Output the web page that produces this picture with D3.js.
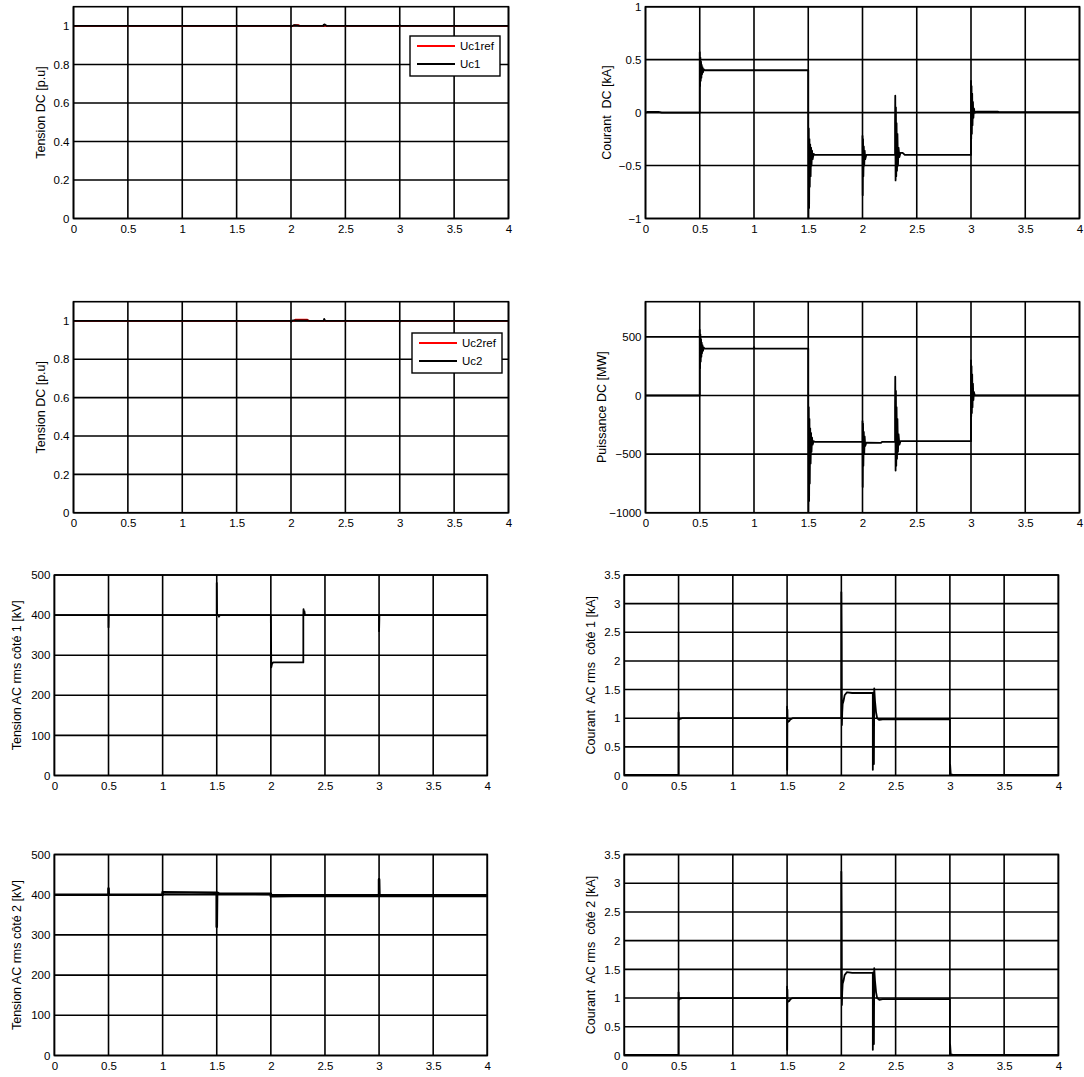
<!DOCTYPE html>
<html><head><meta charset="utf-8">
<script src="https://cdn.jsdelivr.net/npm/d3@7/dist/d3.min.js"></script>
<style>
body{margin:0;background:#fff;}
svg text{font-family:"Liberation Sans",Arial,Helvetica,sans-serif;fill:#000;}
</style></head>
<body><svg id="chart" width="1084" height="1077"></svg>
<script>
// ---------- data (time in s) ----------
const xTicks = [0, 0.5, 1, 1.5, 2, 2.5, 3, 3.5, 4];
const xTickLabels = ["0", "0.5", "1", "1.5", "2", "2.5", "3", "3.5", "4"];

const yTicksUdc = [0, 0.2, 0.4, 0.6, 0.8, 1];
const yTicksIdc = [-1, -0.5, 0, 0.5, 1];
const yTicksPdc = [-1000, -500, 0, 500];
const yTicksUac = [0, 100, 200, 300, 400, 500];
const yTicksIac = [0, 0.5, 1, 1.5, 2, 2.5, 3, 3.5];

const uc1ref = [[0,1],[2.02,1],[2.03,1.004],[2.07,1.004],[2.08,1],[4,1]];
const uc1 = [[0,1],[1.5,1],[1.5,1.003],[1.505,1],[2.0,1],[2.0,0.997],[2.03,1.004],[2.06,1.003],[2.08,1],[2.3,1],[2.3,1.006],[2.31,1.008],[2.33,1],[3,1],[3.0,1.003],[3.01,1],[4,1]];

const uc2ref = [[0,1],[2.03,1],[2.04,1.006],[2.15,1.006],[2.16,1],[4,1]];
const uc2 = [[0,1],[2.0,1],[2.0,0.995],[2.02,1.003],[2.15,1.002],[2.17,1],[2.3,1],[2.305,1.01],[2.315,1],[3,1],[3.005,0.998],[3.01,1],[4,1]];

const idc = [[0,0],[0.02,0.006],[0.12,0.006],[0.15,0],[0.5,0],
  [0.5,0.57],[0.503,0.25],[0.506,0.52],[0.509,0.3],[0.512,0.48],[0.515,0.33],[0.518,0.45],[0.521,0.36],[0.525,0.43],[0.53,0.38],[0.535,0.41],[0.545,0.4],
  [1.5,0.4],[1.5,-0.1],[1.502,-1.0],[1.505,-0.15],[1.508,-0.9],[1.511,-0.25],[1.514,-0.7],[1.518,-0.3],[1.522,-0.6],[1.526,-0.33],[1.53,-0.5],[1.535,-0.36],[1.54,-0.44],[1.55,-0.39],[1.56,-0.4],
  [2.0,-0.4],[2.0,-0.22],[2.002,-0.78],[2.005,-0.25],[2.008,-0.6],[2.012,-0.32],[2.016,-0.5],[2.02,-0.36],[2.025,-0.44],[2.035,-0.4],
  [2.3,-0.4],[2.3,-0.1],[2.302,0.16],[2.305,-0.64],[2.308,0.05],[2.311,-0.6],[2.314,-0.1],[2.318,-0.55],[2.322,-0.2],[2.327,-0.5],[2.332,-0.33],[2.34,-0.42],[2.35,-0.38],[2.37,-0.38],[2.39,-0.4],
  [3.0,-0.4],[3.0,0.3],[3.002,-0.25],[3.005,0.25],[3.008,-0.2],[3.011,0.18],[3.014,-0.12],[3.018,0.1],[3.022,-0.05],[3.027,0.04],[3.035,0.0],[3.05,0.008],[3.25,0.008],[3.26,0.004],[4,0.004]];

const pdc = [[0,0],[0.5,0],
  [0.5,560],[0.503,230],[0.506,520],[0.509,290],[0.512,480],[0.515,330],[0.518,450],[0.521,360],[0.525,430],[0.53,380],[0.535,410],[0.545,400],
  [1.0,400],[1.0,412],[1.005,400],[1.5,400],
  [1.5,-80],[1.502,-990],[1.505,-100],[1.508,-900],[1.511,-200],[1.514,-750],[1.518,-280],[1.522,-580],[1.526,-320],[1.53,-480],[1.535,-360],[1.54,-420],[1.55,-390],[1.56,-395],
  [2.0,-395],[2.0,-220],[2.002,-780],[2.005,-240],[2.008,-600],[2.012,-310],[2.016,-500],[2.02,-350],[2.025,-430],[2.035,-402],[2.17,-405],[2.18,-395],
  [2.3,-395],[2.3,-100],[2.302,160],[2.305,-640],[2.308,40],[2.311,-600],[2.314,-100],[2.318,-540],[2.322,-200],[2.327,-480],[2.332,-330],[2.34,-420],[2.35,-390],
  [3.0,-390],[3.0,300],[3.002,-180],[3.005,250],[3.008,-150],[3.011,180],[3.014,-100],[3.018,100],[3.022,-40],[3.027,30],[3.035,0],[4,0]];

const uac1 = [[0,400],[0.5,400],[0.5,370],[0.502,400],[1.5,400],[1.5,480],[1.503,400],[1.52,400],[1.52,396],[1.53,400],
  [2.0,400],[2.0,385],[2.004,270],[2.01,278],[2.02,282],[2.3,282],[2.3,400],[2.302,415],[2.306,400],[2.31,410],[2.315,400],
  [3.0,400],[3.0,360],[3.003,400],[4,400]];

const iac1 = [[0,0.01],[0.5,0.01],[0.5,1.1],[0.503,0.97],[0.51,1.0],[0.52,0.99],[0.53,1.0],
  [1.5,1.0],[1.5,1.2],[1.501,0.1],[1.503,1.15],[1.505,0.93],[1.52,0.95],[1.53,0.98],[1.55,1.0],
  [2.0,1.0],[2.0,3.2],[2.003,2.3],[2.005,0.88],[2.008,1.1],[2.012,1.25],[2.02,1.3],[2.03,1.4],[2.05,1.45],[2.1,1.44],
  [2.29,1.44],[2.29,0.1],[2.295,1.45],[2.3,0.2],[2.303,1.52],[2.31,1.3],[2.32,1.1],[2.33,1.0],[2.35,0.97],[2.38,0.98],
  [3.0,0.98],[3.0,0.0],[3.002,0.2],[3.008,0.02],[3.03,0.01],[4,0.01]];

const uac2 = [[0,400],[0.5,400],[0.5,415],[0.502,400],[1.0,400],[1.0,406],[1.5,405],[1.5,320],[1.503,405],[1.52,403],
  [2.0,402],[2.0,396],[2.2,397],[3.0,397],[3.0,438],[3.003,397],[4,397]];

const iac2 = [[0,0.01],[0.5,0.01],[0.5,1.1],[0.503,0.97],[0.51,1.0],[0.52,0.99],[0.53,1.0],
  [1.5,1.0],[1.5,1.2],[1.501,0.1],[1.503,1.15],[1.505,0.93],[1.52,0.95],[1.53,0.98],[1.55,1.0],
  [2.0,1.0],[2.0,3.2],[2.003,2.3],[2.005,0.88],[2.008,1.1],[2.012,1.25],[2.02,1.3],[2.03,1.4],[2.05,1.45],[2.1,1.44],
  [2.29,1.44],[2.29,0.1],[2.295,1.45],[2.3,0.2],[2.303,1.52],[2.31,1.3],[2.32,1.1],[2.33,1.0],[2.35,0.97],[2.38,0.98],
  [3.0,0.98],[3.0,0.0],[3.002,0.2],[3.008,0.02],[3.03,0.01],[4,0.01]];

const yLabels = ["Tension DC [p.u]", "Courant  DC [kA]", "Tension DC [p.u]", "Puissance DC [MW]",
  "Tension AC rms côté 1 [kV]", "Courant  AC rms  côté 1 [kA]", "Tension AC rms côté 2 [kV]", "Courant  AC rms  côté 2 [kA]"];

// ---------- layout ----------
const panels = [
  {x0:73.5, x1:508.5, y0:6.7, y1:218.5, dom:[0,1.1], ticks:yTicksUdc, label:yLabels[0], lx:40.5,
   series:[{d:uc1ref,c:"#ff0000"},{d:uc1,c:"#000"}], legend:["Uc1ref","Uc1"], leg:[410,36]},
  {x0:645.5, x1:1079.5, y0:6.7, y1:218.5, dom:[-1,1], ticks:yTicksIdc, label:yLabels[1], lx:607,
   series:[{d:idc,c:"#000"}]},
  {x0:73.5, x1:508.5, y0:301.7, y1:512.7, dom:[0,1.1], ticks:yTicksUdc, label:yLabels[2], lx:40.5,
   series:[{d:uc2ref,c:"#ff0000"},{d:uc2,c:"#000"}], legend:["Uc2ref","Uc2"], leg:[412,333]},
  {x0:645.5, x1:1079.5, y0:301.7, y1:512.7, dom:[-1000,800], ticks:yTicksPdc, label:yLabels[3], lx:602,
   series:[{d:pdc,c:"#000"}]},
  {x0:54.4, x1:487.3, y0:575, y1:775.5, dom:[0,500], ticks:yTicksUac, label:yLabels[4], lx:17,
   series:[{d:uac1,c:"#000"}]},
  {x0:624.3, x1:1058.4, y0:575, y1:775.5, dom:[0,3.5], ticks:yTicksIac, label:yLabels[5], lx:591,
   series:[{d:iac1,c:"#000"}]},
  {x0:54.4, x1:487.3, y0:854.5, y1:1055.5, dom:[0,500], ticks:yTicksUac, label:yLabels[6], lx:17,
   series:[{d:uac2,c:"#000"}], sw:2.6},
  {x0:624.3, x1:1058.4, y0:854.5, y1:1055.5, dom:[0,3.5], ticks:yTicksIac, label:yLabels[7], lx:591,
   series:[{d:iac2,c:"#000"}]}
];

const svg = d3.select("#chart");
svg.append("rect").attr("width",1084).attr("height",1077).attr("fill","#fff");

panels.forEach((p,i) => {
  const x = d3.scaleLinear().domain([0,4]).range([p.x0,p.x1]);
  const y = d3.scaleLinear().domain(p.dom).range([p.y1,p.y0]);
  const g = svg.append("g");
  const clipId = "clip"+i;
  svg.append("clipPath").attr("id",clipId).append("rect")
    .attr("x",p.x0).attr("y",p.y0).attr("width",p.x1-p.x0).attr("height",p.y1-p.y0);

  // grid
  g.append("g").selectAll("line").data(xTicks).join("line")
    .attr("x1",d=>x(d)).attr("x2",d=>x(d)).attr("y1",p.y0).attr("y2",p.y1)
    .attr("stroke","#000").attr("stroke-width",1.6);
  g.append("g").selectAll("line").data(p.ticks).join("line")
    .attr("x1",p.x0).attr("x2",p.x1).attr("y1",d=>y(d)).attr("y2",d=>y(d))
    .attr("stroke","#000").attr("stroke-width",1.6);

  // axes (labels only)
  const xa = g.append("g").attr("transform",`translate(0,${p.y1})`)
    .call(d3.axisBottom(x).tickValues(xTicks).tickFormat((d,k)=>xTickLabels[k]).tickSize(0).tickPadding(6));
  xa.select(".domain").remove();
  xa.selectAll("text").attr("font-size",11.5).attr("font-family",null);
  const ya = g.append("g").attr("transform",`translate(${p.x0},0)`)
    .call(d3.axisLeft(y).tickValues(p.ticks).tickFormat(d3.format("")).tickSize(0).tickPadding(4));
  ya.select(".domain").remove();
  ya.selectAll("text").attr("font-size",11.5).attr("font-family",null);

  // series
  const line = d3.line().x(d=>x(d[0])).y(d=>y(d[1]));
  const sg = g.append("g").attr("clip-path",`url(#${clipId})`);
  p.series.forEach(s => {
    sg.append("path").attr("d",line(s.d)).attr("fill","none")
      .attr("stroke",s.c).attr("stroke-width",p.sw||1.8).attr("stroke-linejoin","round");
  });

  // box
  g.append("rect").attr("x",p.x0).attr("y",p.y0).attr("width",p.x1-p.x0).attr("height",p.y1-p.y0)
    .attr("fill","none").attr("stroke","#000").attr("stroke-width",1.6);

  // y label
  g.append("text").attr("transform",`translate(${p.lx},${(p.y0+p.y1)/2}) rotate(-90)`)
    .attr("text-anchor","middle").attr("dominant-baseline","central")
    .attr("font-size",12.5).style("white-space","pre").text(p.label);

  // legend
  if (p.legend) {
    const [lx,ly] = p.leg;
    const lg = g.append("g");
    lg.append("rect").attr("x",lx).attr("y",ly).attr("width",90).attr("height",40)
      .attr("fill","#fff").attr("stroke","#000").attr("stroke-width",1.4);
    p.legend.forEach((name,k) => {
      const yy = ly + 10 + k*18;
      lg.append("line").attr("x1",lx+7).attr("x2",lx+45).attr("y1",yy).attr("y2",yy)
        .attr("stroke",p.series[k].c).attr("stroke-width",1.8);
      lg.append("text").attr("x",lx+50).attr("y",yy).attr("dominant-baseline","central")
        .attr("font-size",11.5).text(name);
    });
  }
});
</script></body></html>
